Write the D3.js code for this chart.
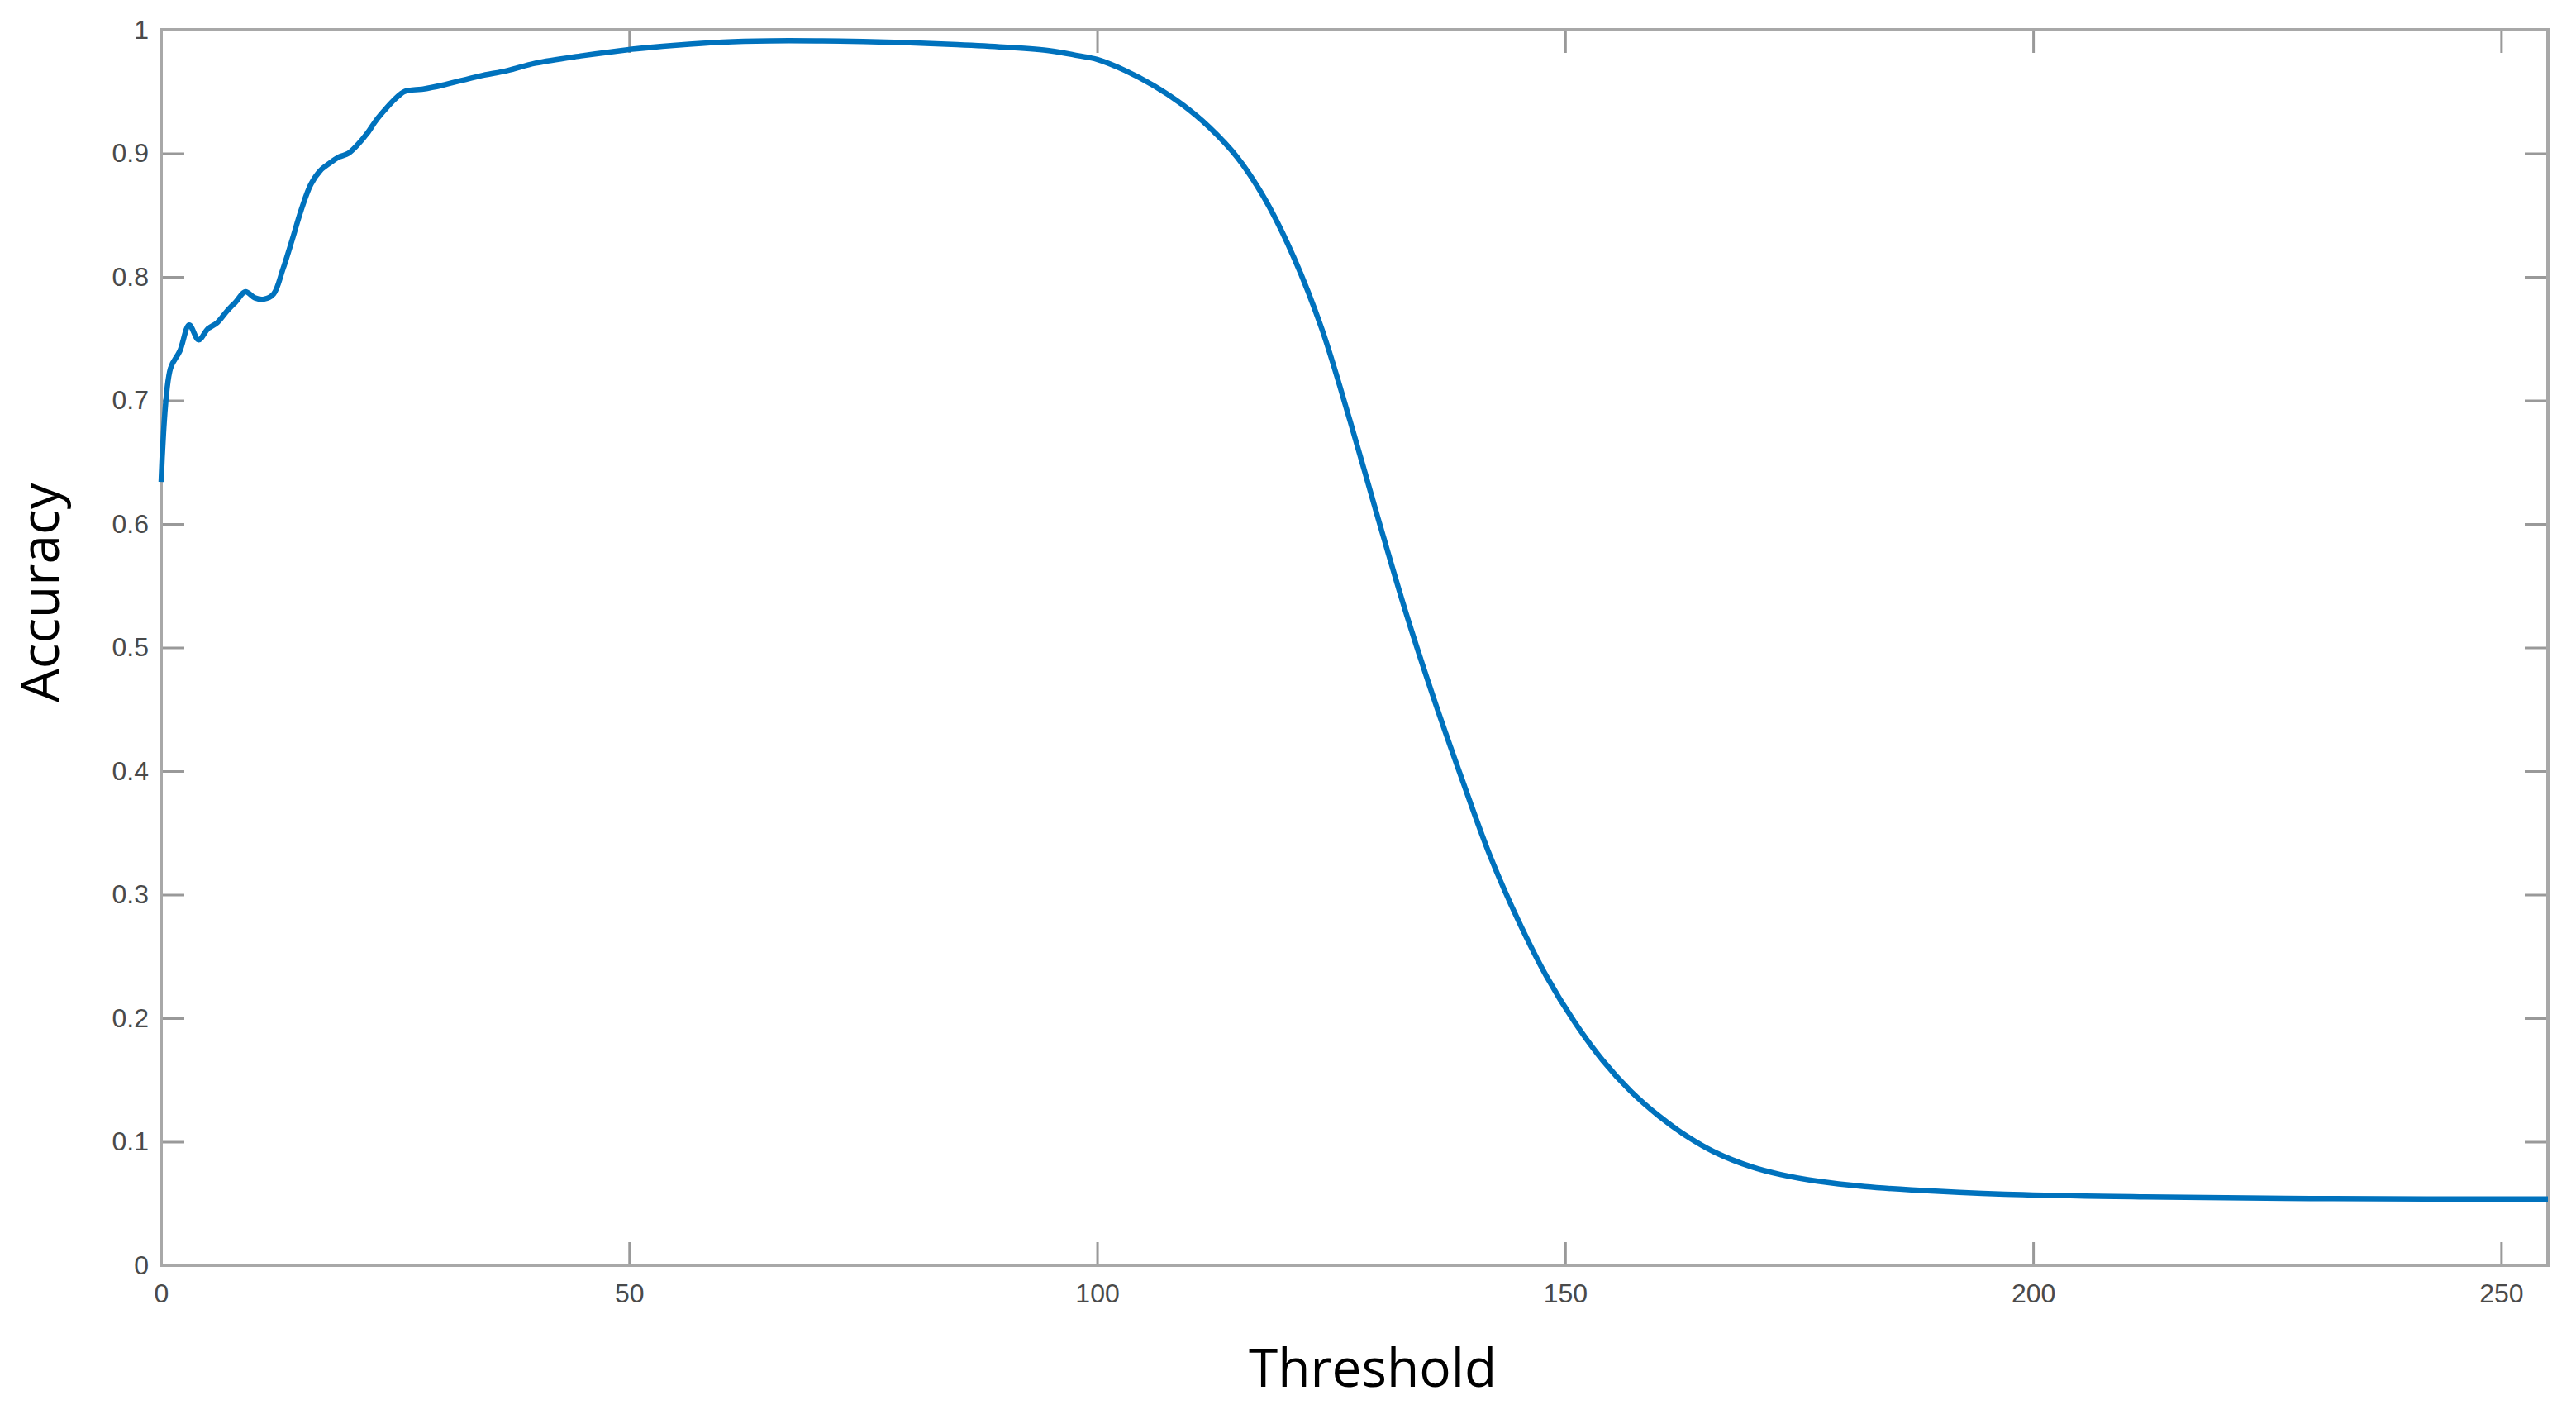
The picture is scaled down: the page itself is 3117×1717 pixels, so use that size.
<!DOCTYPE html>
<html>
<head>
<meta charset="utf-8">
<script src="https://cdn.jsdelivr.net/npm/d3@7/dist/d3.min.js"></script>
<style>
  html, body { margin: 0; padding: 0; background: #fff; }
  svg { display: block; }
</style>
</head>
<body>
<script>
// ---- data ----
const thresholds = [0,1,2,3,4,5,6,7,8,9,10,11,12,13,14,15,16,17,18,19,20,21,22,23,24,25,26,28,30,34,37,40,45,50,55,60,65,70,75,80,85,90,95,98,100,103,106,109,112,115,118,121,124,127,130,133,136,139,142,145,148,151,154,157,160,163,166,170,173,177,182,187,197,212,227,242,255];
const accuracy = [0.634,0.726,0.740,0.761,0.749,0.758,0.763,0.772,0.780,0.788,0.783,0.782,0.786,0.806,0.830,0.855,0.875,0.886,0.892,0.897,0.900,0.907,0.916,0.927,0.936,0.944,0.950,0.952,0.955,0.9625,0.967,0.973,0.979,0.984,0.9875,0.990,0.991,0.991,0.9905,0.9895,0.988,0.986,0.983,0.979,0.976,0.967,0.955,0.940,0.921,0.8965,0.862,0.816,0.758,0.684,0.605,0.528,0.458,0.393,0.331,0.279,0.234,0.197,0.166,0.141,0.121,0.1045,0.0915,0.0795,0.0735,0.068,0.0637,0.061,0.0575,0.0553,0.0542,0.0537,0.0536];
const xTicks = [0,50,100,150,200,250];
const yTicks = [0,0.1,0.2,0.3,0.4,0.5,0.6,0.7,0.8,0.9,1];
const xLabel = "Threshold";
const yLabel = "Accuracy";

// ---- layout ----
const W = 3117, H = 1717;
const M = { left: 195, right: W - 3083, top: 36, bottom: H - 1531 };
const iw = W - M.left - M.right, ih = H - M.top - M.bottom;
const tickLen = 28;
const boxColor = "#a8a8a8", tickColor = "#999", labelColor = "#4a4a4a";

const svg = d3.select("body").append("svg").attr("width", W).attr("height", H);
const g = svg.append("g").attr("transform", `translate(${M.left},${M.top})`);

const x = d3.scaleLinear().domain([0, 255]).range([0, iw]);
const y = d3.scaleLinear().domain([0, 1]).range([ih, 0]);

const fmtY = d => (d === 0 || d === 1) ? String(d) : d3.format(".1f")(d);

// inward ticks on all four sides
const axBottom = g.append("g").attr("transform", `translate(0,${ih})`)
  .call(d3.axisBottom(x).tickValues(xTicks).tickSizeInner(-tickLen).tickSizeOuter(0).tickPadding(22));
const axTop = g.append("g")
  .call(d3.axisTop(x).tickValues(xTicks).tickSizeInner(-tickLen).tickSizeOuter(0).tickFormat(""));
const axLeft = g.append("g")
  .call(d3.axisLeft(y).tickValues(yTicks).tickFormat(fmtY).tickSizeInner(-tickLen).tickSizeOuter(0).tickPadding(15));
const axRight = g.append("g").attr("transform", `translate(${iw},0)`)
  .call(d3.axisRight(y).tickValues(yTicks).tickSizeInner(-tickLen).tickSizeOuter(0).tickFormat(""));

[axBottom, axTop, axLeft, axRight].forEach(a => {
  a.select(".domain").remove();
  a.selectAll(".tick line").attr("stroke", tickColor).attr("stroke-width", 3);
  a.selectAll(".tick text").attr("fill", labelColor)
    .style("font-family", "'Liberation Sans', Arial, Helvetica, sans-serif")
    .style("font-size", "32px");
});

// box
g.append("rect").attr("x", 0).attr("y", 0).attr("width", iw).attr("height", ih)
  .attr("fill", "none").attr("stroke", boxColor).attr("stroke-width", 4);

// line
const data = thresholds.map((t, i) => ({ t, a: accuracy[i] }));
g.append("path").datum(data)
  .attr("fill", "none").attr("stroke", "#0072BD").attr("stroke-width", 6.5)
  .attr("stroke-linejoin", "round").attr("stroke-linecap", "butt")
  .attr("d", d3.line().x(d => x(d.t)).y(d => y(d.a)).curve(d3.curveCatmullRom.alpha(0.5)));

// axis titles
svg.append("text").attr("x", 1661).attr("y", 1678).attr("text-anchor", "middle")
  .style("font-family", "'Open Sans', 'Noto Sans', sans-serif").style("font-size", "64px")
  .attr("fill", "#000").text(xLabel);
svg.append("text").attr("transform", `translate(71,717) rotate(-90)`).attr("text-anchor", "middle")
  .style("font-family", "'Open Sans', 'Noto Sans', sans-serif").style("font-size", "64px")
  .attr("fill", "#000").text(yLabel);
</script>
</body>
</html>
